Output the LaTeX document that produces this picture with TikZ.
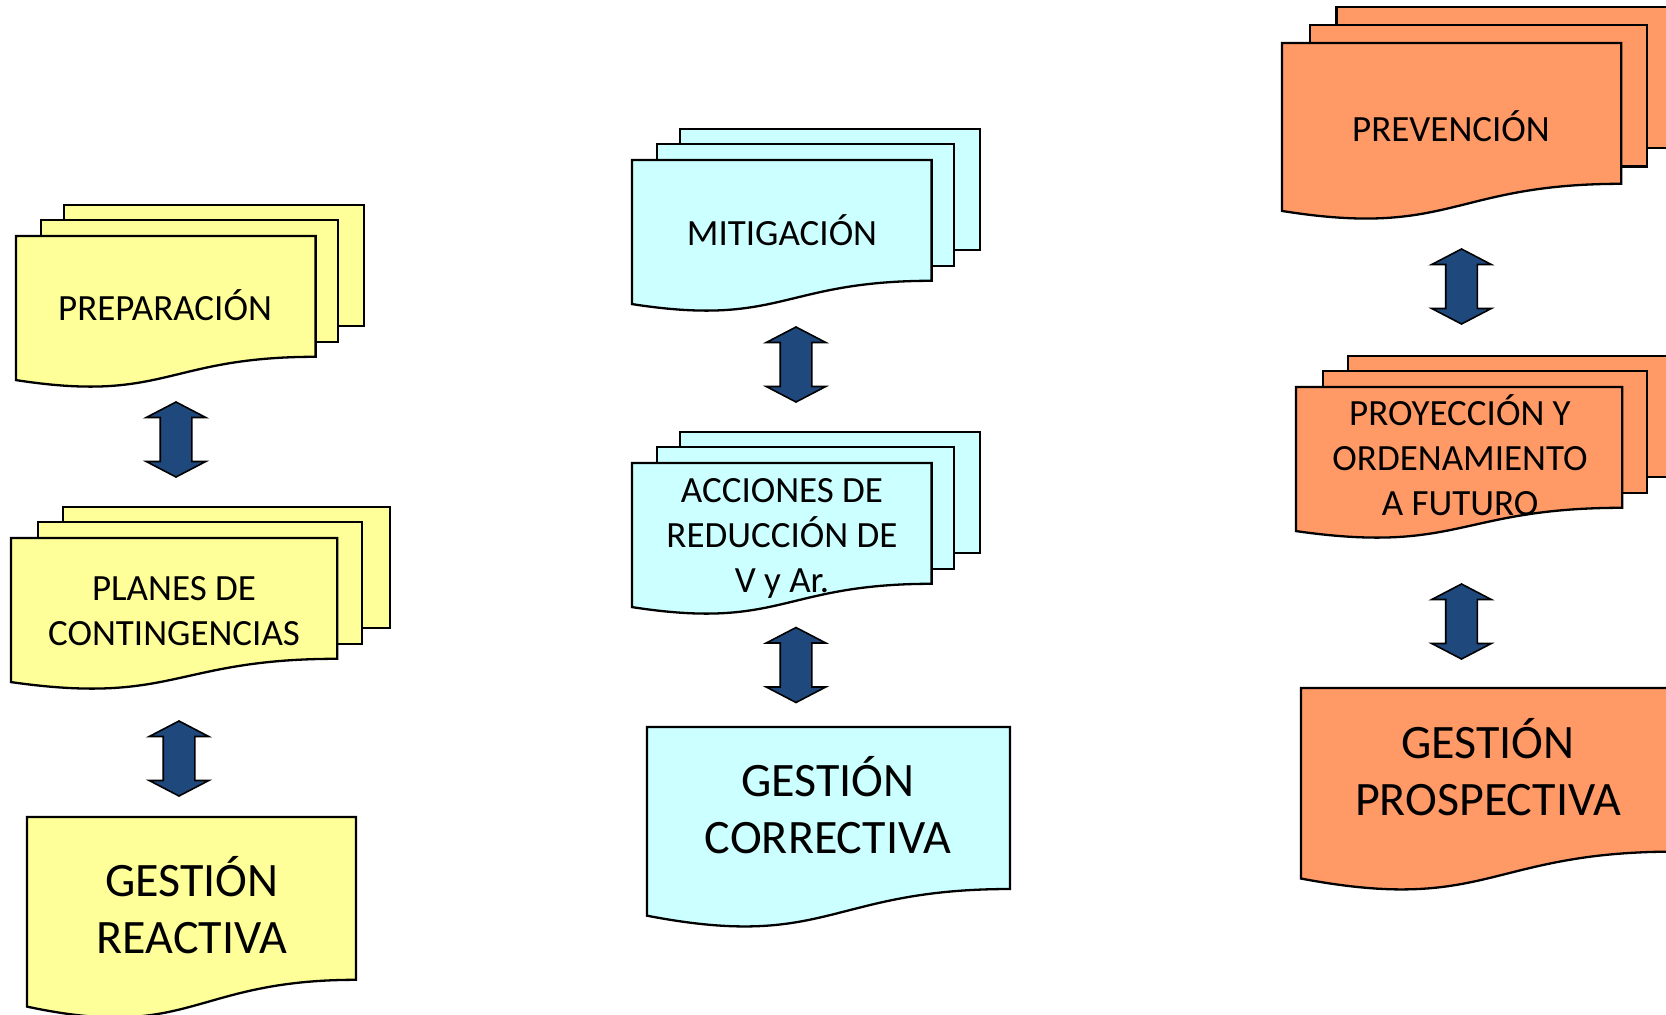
\documentclass[tikz,border=0pt]{standalone}
\usepackage{fontspec}
\setmainfont{Carlito}
\usetikzlibrary{shapes.arrows}

\definecolor{reacyellow}{HTML}{FFFF99}
\definecolor{corrcyan}{HTML}{CCFFFF}
\definecolor{prosorange}{HTML}{FF9966}
\definecolor{linkblue}{HTML}{1F497D}

% three stacked sheets: left, top, width, height, fill
\newcommand{\stackdoc}[5]{%
  \begin{scope}[shift={(#1,#2)}, x=#3pt, y=-#4pt]
    \filldraw[sheet, fill=#5] (0.138,0) rectangle (1,0.666);
    \filldraw[sheet, fill=#5] (0.071,0.084) rectangle (0.926,0.752);
    \filldraw[sheet, fill=#5] (0,0.17) -- (0.861,0.17) -- (0.861,0.834)
      .. controls (0.4305,0.834) and (0.4305,1.09) .. (0,0.962) -- cycle;
  \end{scope}}
% single sheet: left, top, width, height, fill
\newcommand{\singledoc}[5]{%
  \begin{scope}[shift={(#1,#2)}, x=#3pt, y=-#4pt]
    \filldraw[sheet, fill=#5] (0,0) -- (1,0) -- (1,0.802)
      .. controls (0.5,0.802) and (0.5,1.1075) .. (0,0.934) -- cycle;
  \end{scope}}

\begin{document}
\begin{tikzpicture}[x=1pt, y=-1pt,
        sheet/.style={draw=black, line width=2.3pt, line join=miter},
        lbl/.style={anchor=base, align=center, inner sep=0pt, font=\fontsize{37}{45}\selectfont},
        big/.style={anchor=base, align=center, inner sep=0pt, font=\fontsize{48}{57}\selectfont},
        link/.style={double arrow, rotate=90, fill=linkblue, draw=black, line width=1.6pt,
            minimum height=75pt, inner sep=0pt, inner ysep=15pt,
            double arrow head extend=14pt, double arrow tip angle=125}]
        \useasboundingbox (0,0) rectangle (1666,1015);
        % Reactive column
        \stackdoc{16}{205}{348}{182}{reacyellow}
        \stackdoc{11}{507}{379}{182}{reacyellow}
        \singledoc{27}{817}{329}{203}{reacyellow}
        \node[lbl] (prep) at (165,320) {PREPARACIÓN};
        \node[lbl] (planes) at (174,645) {PLANES DE\\CONTINGENCIAS};
        \node[big] (reactiva) at (192,953) {GESTIÓN\\REACTIVA};
        % Corrective column
        \stackdoc{632}{129}{348}{182}{corrcyan}
        \stackdoc{632}{432}{348}{182}{corrcyan}
        \singledoc{647}{727}{363}{202}{corrcyan}
        \node[lbl] (mitig) at (782,245) {MITIGACIÓN};
        \node[lbl] (acciones) at (782,592) {ACCIONES DE\\REDUCCIÓN DE\\V y Ar.};
        \node[big] (correctiva) at (828,853) {GESTIÓN\\CORRECTIVA};
        % Prospective column
        \stackdoc{1282}{7}{394}{212}{prosorange}
        \stackdoc{1296}{356}{379}{182}{prosorange}
        \singledoc{1301}{688}{374}{204}{prosorange}
        \node[lbl] (prev) at (1451,141) {PREVENCIÓN};
        \node[lbl] (proy) at (1460,515) {PROYECCIÓN Y\\ORDENAMIENTO\\A FUTURO};
        \node[big] (prospectiva) at (1488,815) {GESTIÓN\\PROSPECTIVA};
        % Two-way links
        \node[link] (l1) at (176,439.5) {};
        \node[link] (l2) at (179,758.5) {};
        \node[link] (l3) at (796,364.5) {};
        \node[link] (l4) at (796,665) {};
        \node[link] (l5) at (1461.5,286.5) {};
        \node[link] (l6) at (1461.5,621.5) {};
    \end{tikzpicture}
\end{document}
